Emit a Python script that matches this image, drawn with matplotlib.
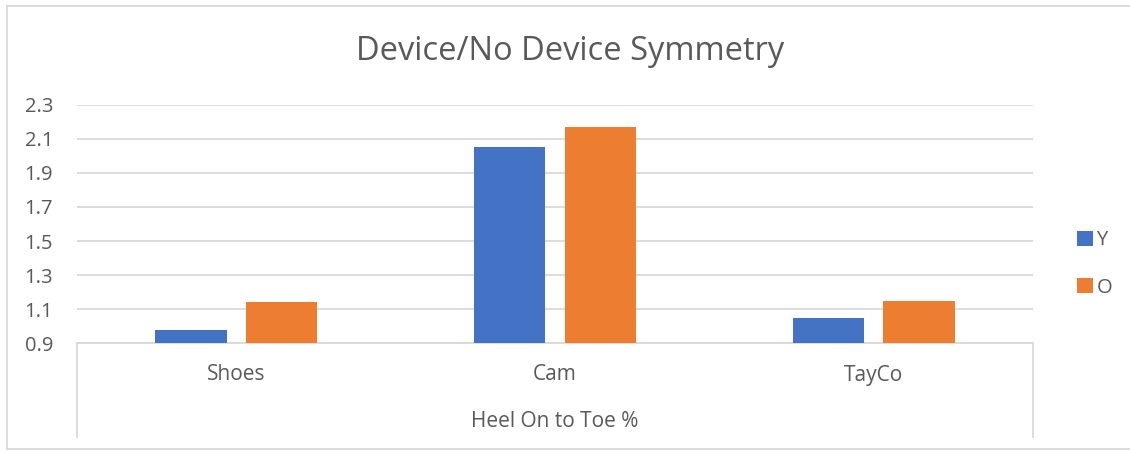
import matplotlib.pyplot as plt
from matplotlib.lines import Line2D
import numpy as np

# data
categories = ["Shoes", "Cam", "TayCo"]
group_label = "Heel On to Toe %"
series_names = ["Y", "O"]
y_vals = [0.98, 2.05, 1.05]
o_vals = [1.14, 2.17, 1.15]
yticks = [0.9, 1.1, 1.3, 1.5, 1.7, 1.9, 2.1, 2.3]

blue = "#4472C4"
orange = "#ED7D31"
grid_col = "#D9D9D9"
text_col = "#595959"

plt.rcParams['font.family'] = ['Open Sans', 'DejaVu Sans']

W, H = 1130, 451
fig = plt.figure(figsize=(W / 100, H / 100), dpi=100)

# axes placed in pixel terms
left, right, top, bottom = 76.7, 1033.3, 104.7, 343.3
ax = fig.add_axes([left / W, 1 - bottom / H, (right - left) / W, (bottom - top) / H])

x = np.arange(len(categories))
w = 0.225
off = 0.1425
ax.bar(x - off, y_vals, w, bottom=0, color=blue, label=series_names[0], zorder=3)
ax.bar(x + off, o_vals, w, bottom=0, color=orange, label=series_names[1], zorder=3)

ax.set_xlim(-0.5, len(categories) - 0.5)
ax.set_ylim(0.9, 2.3)
ax.set_yticks(yticks)
ax.set_yticklabels([f"{t:.1f}" for t in yticks])
ax.yaxis.grid(True, color=grid_col, linewidth=1.3, zorder=0)
ax.tick_params(axis='y', length=0, pad=17, labelsize=14.5, labelcolor=text_col)
ax.set_xticks([])
for s in ['left', 'right', 'top']:
    ax.spines[s].set_visible(False)
ax.spines['bottom'].set_color(grid_col)
ax.spines['bottom'].set_linewidth(1.3)

# category labels
for xi, c in zip(x, categories):
    fig.text((left + (xi + 0.5) * (right - left) / 3) / W, 1 - 375 / H, c,
             ha='center', va='center', fontsize=15, color=text_col)
fig.text(((left + right) / 2) / W, 1 - 421.5 / H, group_label,
         ha='center', va='center', fontsize=15, color=text_col)

# group bracket lines
for px in (left, right):
    fig.add_artist(Line2D([px / W, px / W], [1 - bottom / H, 1 - 437 / H],
                          color=grid_col, linewidth=1.3))

# chart border
fig.add_artist(Line2D([7 / W, 7 / W], [1 - 6 / H, 1 - 449 / H], color=grid_col, linewidth=1.3))
fig.add_artist(Line2D([7 / W, 1], [1 - 6 / H, 1 - 6 / H], color=grid_col, linewidth=1.3))
fig.add_artist(Line2D([7 / W, 1], [1 - 449 / H, 1 - 449 / H], color=grid_col, linewidth=1.3))

fig.text(570 / W, 1 - 51 / H, "Device/No Device Symmetry", ha='center', va='center',
         fontsize=23.5, color=text_col)

fig.legend(loc='center left', bbox_to_anchor=(1059 / W, 1 - 264 / H), frameon=False,
           handlelength=0.8, handleheight=0.8, handletextpad=0.15, labelspacing=1.35,
           fontsize=14.5, labelcolor=text_col)

fig.savefig("out.png", dpi=100)
